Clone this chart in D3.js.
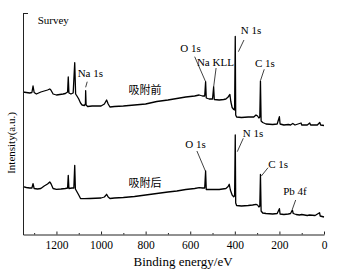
<html>
<head>
	<meta charset='utf-8' />
	<title>XPS Survey</title>
	<script src="https://cdn.jsdelivr.net/npm/d3@7"></script>
	<style>
	body { margin: 0; background: #fff; }
	text { font-family: "Liberation Serif", "Times New Roman", serif; fill: #000; }
	.cjk { font-family: "Noto Sans CJK SC", sans-serif; }
	</style>
</head>
<body>
<script>

	// binding energy (eV), intensity (a.u.)
	var beforeEnergy = [1350,1335,1320,1310,1305,1300,1290,1280,1270,1255,1240,1230,1225,1215,1200,1185,1170,1160,1150,1147,1144,1135,1125,1118,1114,1108,1100,1092,1085,1075,1070,1069,1067,1060,1040,1020,1000,985,975,968,960,940,900,850,800,750,700,660,620,580,560,545,535,531,528,515,500,495,492,470,450,440,430,422,418,412,405,401,398,396,392,370,340,315,305,298,292,288,285,282,275,260,230,210,200,197,180,160,150,140,130,103,100,75,64,60,30,19,15,0];
	var beforeCounts = [142.5,142,141.5,142,148.5,142,140.5,141.5,142.5,143.5,144.5,145.5,144.5,140.5,139.5,140,140.5,141,142.5,157.5,141.5,140.5,141.5,171.8,140.5,138.5,135.5,131.5,129.5,129,130.5,143.8,129.5,128,128.5,128.5,128.5,130.5,134.5,130.5,127.5,128,128.5,129.5,130.5,133,134.5,136,137.5,138.5,139.5,138.5,138.5,152.8,136.5,135.5,135.5,147.5,135,134.5,135,135.5,137.5,140,133,127,125,124.5,198,119.5,117.5,117,117.5,117.5,119.5,118.5,116.5,117.5,153.5,113.5,112,110.5,110,110.5,117.8,110.5,109.5,110,109.5,111,109.5,111.5,109.5,109.5,111.5,109.5,109.5,112,109.5,109];

	var afterEnergy = [1350,1335,1320,1310,1305,1300,1285,1270,1255,1240,1230,1225,1215,1200,1180,1160,1150,1147,1144,1130,1122,1118,1115,1110,1100,1092,1075,1050,1000,985,975,968,960,940,900,850,800,750,700,660,620,580,560,545,535,531,528,500,470,440,430,425,420,412,405,401,398,396,392,370,340,320,305,298,292,288,285,282,275,260,230,210,200,197,180,160,150,142,138,125,110,100,75,65,40,20,17,0];
	var afterCounts = [47.8,47,46.5,46.5,50.8,46,45.5,46,48.5,50.5,52.5,51,46,45.2,45.5,46,46.5,59.2,46,46.5,46.5,69.2,45.5,43.5,39.5,36,35.8,36,36.5,37.5,40.2,37.5,36,36.5,37,38,39.5,41,42.5,43.5,45,46,46.8,46.5,46.5,63.5,45,45,45,46,48,50.2,44.5,39.5,37.8,38.5,99.5,31.5,29,28.5,29,29.5,30.2,29.5,27.5,28.5,60.2,23.5,21.5,21,20.5,21,25.8,20.5,20,20.5,21,24.5,21,20,19.5,20,19,19.5,19,21.8,18.5,17.5];

	var xTicks = [1200,1000,800,600,400,200,0];
	var xMinorTicks = [1300,1100,900,700,500,300,100];

	// label text, label centre, leader line (energy, intensity)
	var peakLabels = [
		{t:"Na 1s", x:1048, y:161.8, l:[1062,152.8,1069,147.2]},
		{t:"O 1s", x:599, y:186.5, l:[580,177.8,531,152.8]},
		{t:"Na KLL", x:487, y:172.5, l:[484,166.5,495,147.5]},
		{t:"N 1s", x:327, y:204.5, l:[359,194.5,384,182.8]},
		{t:"C 1s", x:265, y:171, l:[268,165.2,284,154.5]},
		{t:"O 1s", x:576, y:90.2, l:[570,83.5,532,63.5]},
		{t:"N 1s", x:318, y:101.2, l:[362,96.2,389,82.8]},
		{t:"C 1s", x:206, y:70.8, l:[251,66.8,281,58.5]},
		{t:"Pb 4f", x:130, y:43.5, l:[127,34.5,142,25.2]}
	];
	var seriesLabels = [
		{t:"吸附前", x:803, y:144.5},
		{t:"吸附后", x:803, y:51.8}
	];

	var W = 346, H = 272;
	var margin = {top: 13, right: 22, bottom: 37.5, left: 23};
	var width = W - margin.left - margin.right,
		height = H - margin.top - margin.bottom;

	var base = d3.select("body").append("svg")
		.attr("width", W)
		.attr("height", H);

	var svg = base.append("g").attr("transform", "translate(" + margin.left + "," + margin.top + ")");

	var xScale = d3.scaleLinear().domain([1350, 0]).range([0, width]);
	var yScale = d3.scaleLinear().domain([0, 221.5]).range([height, 0]);

	var line = d3.line()
		.x(function(d) { return xScale(d[0]); })
		.y(function(d) { return yScale(d[1]); });

	var before = d3.zip(beforeEnergy, beforeCounts);
	var after = d3.zip(afterEnergy, afterCounts);

	[before, after].forEach(function(s) {
		svg.append("path")
			.datum(s)
			.attr("fill", "none")
			.attr("stroke", "#000")
			.attr("stroke-width", 1.3)
			.attr("stroke-linejoin", "round")
			.attr("d", line);
	});

	var xAxis = svg.append("g")
		.attr("transform", "translate(0," + height + ")")
		.call(d3.axisBottom(xScale).tickValues(xTicks).tickFormat(d3.format("d")).tickSizeInner(-3).tickSizeOuter(0).tickPadding(6));
	xAxis.selectAll("text").attr("font-size", "11.5px").attr("font-family", "Liberation Serif").attr("fill", "#000");

	svg.append("g")
		.attr("transform", "translate(0," + height + ")")
		.call(d3.axisBottom(xScale).tickValues(xMinorTicks).tickSize(-1.5).tickFormat(""))
		.select(".domain").remove();

	svg.append("g")
		.call(d3.axisLeft(yScale).tickValues([221.5]).tickSizeInner(-5).tickSizeOuter(0).tickFormat(""));

	svg.selectAll(".domain, .tick line").attr("stroke", "#222");

	svg.append("text")
		.attr("x", xScale(1284))
		.attr("y", yScale(214.5))
		.attr("dy", "0.35em")
		.attr("font-size", "11px")
		.text("Survey");

	svg.selectAll(".leader")
		.data(peakLabels)
		.enter().append("line")
		.attr("class", "leader")
		.attr("x1", d => xScale(d.l[0]))
		.attr("y1", d => yScale(d.l[1]))
		.attr("x2", d => xScale(d.l[2]))
		.attr("y2", d => yScale(d.l[3]))
		.attr("stroke", "#111")
		.attr("stroke-width", 0.8);

	svg.selectAll(".peak")
		.data(peakLabels)
		.enter().append("text")
		.attr("class", "peak")
		.attr("x", d => xScale(d.x))
		.attr("y", d => yScale(d.y))
		.attr("dy", "0.35em")
		.attr("text-anchor", "middle")
		.attr("font-size", "11px")
		.text(d => d.t);

	svg.selectAll(".series")
		.data(seriesLabels)
		.enter().append("text")
		.attr("class", "series cjk")
		.attr("x", d => xScale(d.x))
		.attr("y", d => yScale(d.y))
		.attr("dy", "0.35em")
		.attr("text-anchor", "middle")
		.attr("font-size", "11px")
		.text(d => d.t);

	base.append("text")
		.attr("transform", "translate(11," + 143 + ") rotate(-90)")
		.attr("dy", "0.35em")
		.attr("text-anchor", "middle")
		.attr("font-size", "11px")
		.text("Intensity(a.u.)");

	base.append("text")
		.attr("x", margin.left + xScale(632))
		.attr("y", 261)
		.attr("dy", "0.35em")
		.attr("text-anchor", "middle")
		.attr("font-size", "13px")
		.text("Binding energy/eV");

</script>
</body>
</html>
